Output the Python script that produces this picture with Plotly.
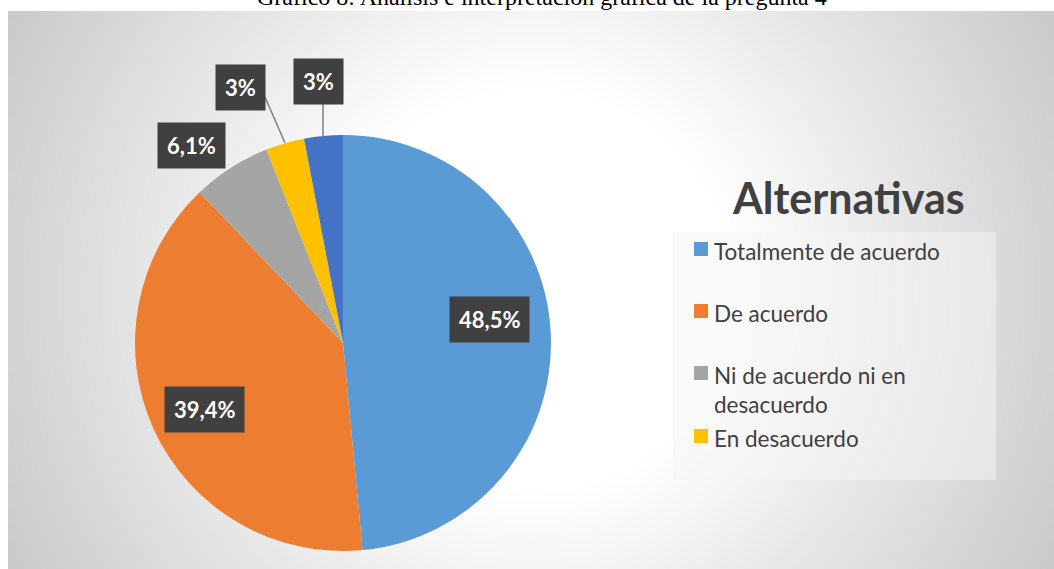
import numpy as np
import plotly.graph_objects as go

# ---- data ----
categories = ["Totalmente de acuerdo", "De acuerdo", "Ni de acuerdo ni en desacuerdo",
              "En desacuerdo", "Totalmente en desacuerdo"]
values = [48.5, 39.4, 6.1, 3.0, 3.0]
colors = ["#5B9BD5", "#ED7D31", "#A5A5A5", "#FFC000", "#4472C4"]
legend_title = "Alternativas"
chart_title = "Gráfico 8: Análisis e interpretación gráfica de la pregunta 4"

W, H = 1054, 569


def px(x):
    return x / W


def py(y):
    return 1 - y / H


fig = go.Figure()

# ---- radial gradient background (decorative) ----
nx, ny = 120, 64
x0, x1, y0, y1 = 8, 1054, 11, 569
dx = (x1 - x0) / nx
dy = (y1 - y0) / ny
xc = x0 + dx / 2 + np.arange(nx) * dx
yc = y0 + dy / 2 + np.arange(ny) * dy
XX, YY = np.meshgrid(xc, yc)
r = np.hypot(XX - 531, YY - 290)
shade = np.clip((r - 200) / 400, 0, 1.15)
fig.add_trace(go.Heatmap(x=xc, y=yc, z=shade, zmin=0, zmax=1.15, zsmooth="best",
                         colorscale=[[0, "#ffffff"], [1, "#c0c0c0"]],
                         showscale=False, hoverinfo="skip", xaxis="x", yaxis="y"))

# ---- pie ----
fig.add_trace(go.Pie(labels=categories, values=values, sort=False, direction="clockwise",
                     rotation=0, marker=dict(colors=colors, line=dict(width=0)),
                     textinfo="none", showlegend=False,
                     domain=dict(x=[px(135), px(551)], y=[py(551), py(135)])))

# ---- data labels ----
def fmt(v):
    s = f"{v:g}".replace(".", ",")
    return s + "%"

label_pos = [(489, 319), (204, 409), (191, 145), (240, 87), (318, 82)]
annotations = []
for v, (lx, ly) in zip(values, label_pos):
    annotations.append(dict(x=px(lx), y=py(ly), xref="paper", yref="paper",
                            text=f"<b>{fmt(v)}</b>", showarrow=False,
                            font=dict(family="Lato", size=22, color="white"),
                            bgcolor="#404040", borderpad=9,
                            xanchor="center", yanchor="middle"))

shapes = [
    dict(type="line", xref="paper", yref="paper", x0=px(265), y0=py(97), x1=px(285), y1=py(143),
         line=dict(color="#7f7f7f", width=1.5)),
    dict(type="line", xref="paper", yref="paper", x0=px(323), y0=py(103), x1=px(323), y1=py(137),
         line=dict(color="#7f7f7f", width=1.5)),
    # legend background
    dict(type="rect", xref="paper", yref="paper", x0=px(673), y0=py(232), x1=px(996), y1=py(480),
         fillcolor="rgba(246,246,246,0.5)", line=dict(width=0), layer="above"),
]

# ---- manual legend (first four categories visible, as in the reference) ----
annotations.append(dict(x=px(848), y=py(198), xref="paper", yref="paper",
                        text=f"<b>{legend_title}</b>", showarrow=False,
                        font=dict(family="Lato", size=43, color="#404040"),
                        xanchor="center", yanchor="middle"))
leg_y = [249, 311, 373, 436]
leg_text = ["Totalmente de acuerdo", "De acuerdo", "Ni de acuerdo ni en<br>desacuerdo", "En desacuerdo"]
for i, (yy, t) in enumerate(zip(leg_y, leg_text)):
    shapes.append(dict(type="rect", xref="paper", yref="paper",
                       x0=px(694), x1=px(708), y0=py(yy + 7), y1=py(yy - 7),
                       fillcolor=colors[i], line=dict(width=0), layer="above"))
    annotations.append(dict(x=px(712), y=py(yy - 13), xref="paper", yref="paper",
                            text=t, showarrow=False, align="left",
                            font=dict(family="Lato", size=22.5, color="#404040"),
                            xanchor="left", yanchor="top"))

# ---- clipped title at top (cut off at the page edge, as in the reference) ----
annotations.append(dict(x=px(542), y=py(12), xref="paper", yref="paper",
                        text=chart_title, showarrow=False,
                        font=dict(family="Liberation Serif", size=24, color="black"),
                        xanchor="center", yanchor="bottom"))

fig.update_layout(
    width=W, height=H, margin=dict(l=0, r=0, t=0, b=0),
    paper_bgcolor="white", plot_bgcolor="rgba(0,0,0,0)",
    xaxis=dict(range=[0, W], visible=False, domain=[0, 1], fixedrange=True),
    yaxis=dict(range=[H, 0], visible=False, domain=[0, 1], fixedrange=True),
    annotations=annotations, shapes=shapes, showlegend=False,
)

fig.write_html("out.html", config={"displayModeBar": False},
               post_script="document.body.style.margin='0';document.body.style.overflow='hidden';")
